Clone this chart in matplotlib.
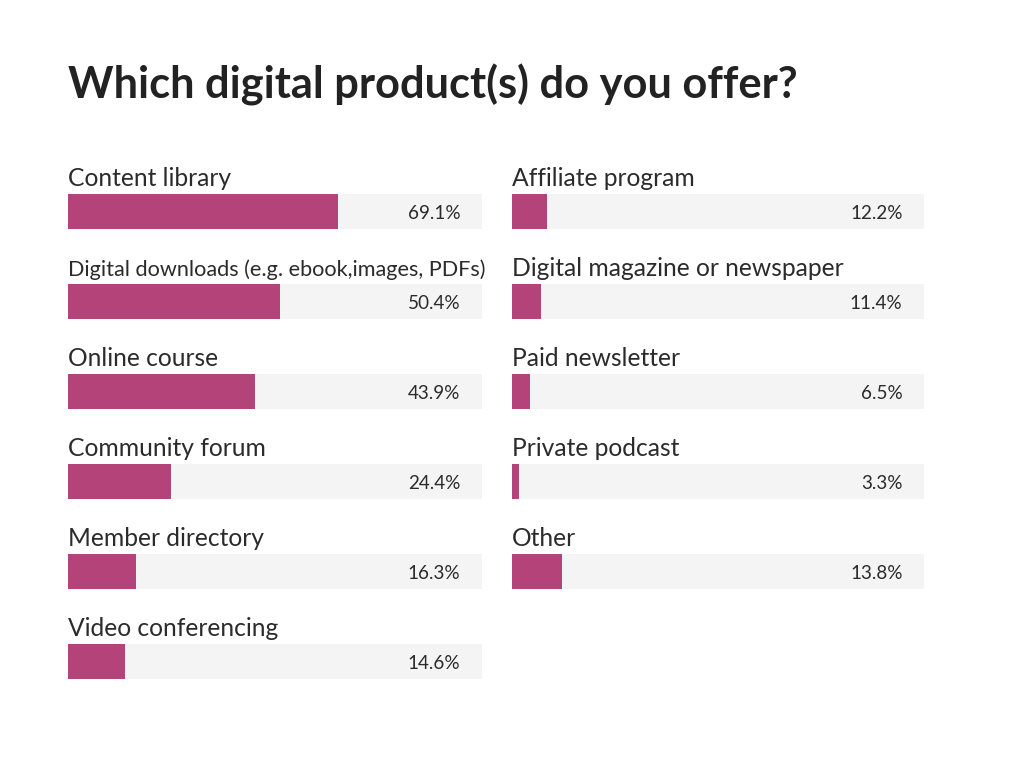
import matplotlib
matplotlib.use("Agg")
import matplotlib.pyplot as plt

plt.rcParams['font.family'] = ['Lato', 'DejaVu Sans']

title = "Which digital product(s) do you offer?"

left_categories = ["Content library", "Digital downloads (e.g. ebook,images, PDFs)",
                   "Online course", "Community forum", "Member directory",
                   "Video conferencing"]
left_labels = [69.1, 50.4, 43.9, 24.4, 16.3, 14.6]
# visible filled length of each bar, as % of the track
left_fill = [65.3, 51.3, 45.2, 24.8, 16.4, 13.8]

right_categories = ["Affiliate program", "Digital magazine or newspaper",
                    "Paid newsletter", "Private podcast", "Other"]
right_labels = [12.2, 11.4, 6.5, 3.3, 13.8]
right_fill = [8.6, 7.0, 4.3, 1.8, 12.2]

W, H = 1024, 759
BAR = "#B4437A"
TRACK = "#F4F4F4"
TEXT = "#2b2b2b"

fig = plt.figure(figsize=(W / 100, H / 100), dpi=100)
fig.patch.set_facecolor("white")

fig.text(68 / W, 1 - 98 / H, title, fontsize=31.2, fontweight="bold",
         color="#222222", ha="left", va="baseline")

pitch = 90.0
top_px, bot_px = 150.0, 700.0
row0 = 211.7


def column(x0, x1, cats, labels, fill):
    ax = fig.add_axes([x0 / W, 1 - bot_px / H, (x1 - x0) / W, (bot_px - top_px) / H])
    y_top = (top_px - row0) / pitch
    y_bot = (bot_px - row0) / pitch
    ax.set_xlim(0, 100)
    ax.set_ylim(y_bot, y_top)
    ax.axis("off")
    ys = list(range(len(cats)))
    ax.barh(ys, [100] * len(cats), height=35 / pitch, left=0, color=TRACK, zorder=1)
    ax.barh(ys, fill, height=35 / pitch, left=0, color=BAR, zorder=2)
    for i, (c, v) in enumerate(zip(cats, labels)):
        fs = 15.6 if len(c) > 35 else 17.7
        ax.text(0, i - 26 / pitch, c, fontsize=fs, color=TEXT,
                ha="left", va="baseline", zorder=3)
        ax.text(100 - 21 / (x1 - x0) * 100, i + 7.3 / pitch, f"{v}%",
                fontsize=13.6, color=TEXT, ha="right", va="baseline", zorder=3)
    return ax


column(68, 481.5, left_categories, left_labels, left_fill)
column(512, 923.5, right_categories, right_labels, right_fill)

fig.savefig("out.png", dpi=100, facecolor="white")
